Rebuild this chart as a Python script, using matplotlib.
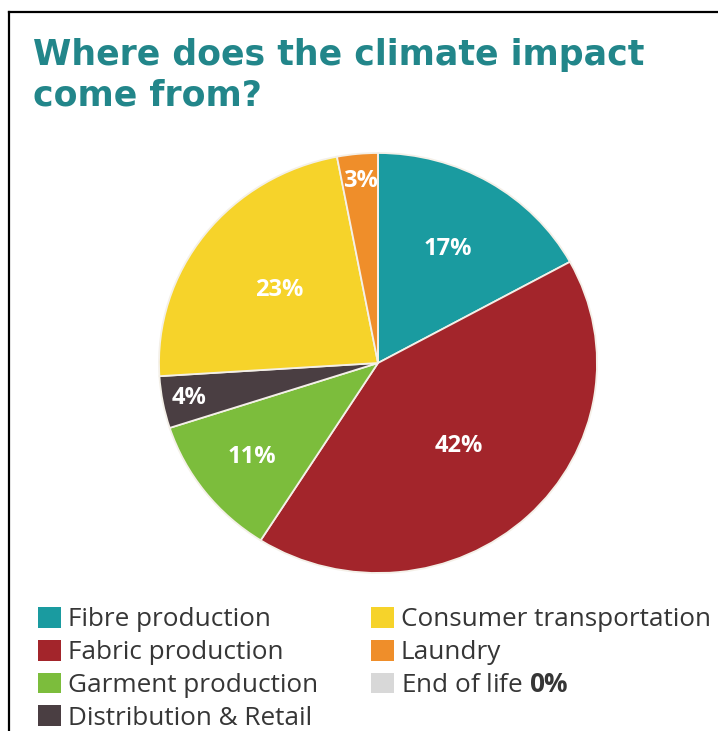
import matplotlib
matplotlib.use("Agg")
import matplotlib.pyplot as plt
import numpy as np

categories = ["Fibre production", "Fabric production", "Garment production",
              "Distribution & Retail", "Consumer transportation", "Laundry", "End of life"]
values = [17, 42, 11, 4, 23, 3, 0]
colors = ["#1a9ba0", "#a3252b", "#7cbd3c", "#4a3e42", "#f6d32a", "#ef8e2a", "#d8d8d8"]
label_radius = [0.63, 0.54, 0.73, 0.88, 0.57, 0.87, 0]
title_lines = ["Where does the climate impact", "come from?"]

W, H = 718, 731
fig = plt.figure(figsize=(W / 100, H / 100), dpi=100)

plt.rcParams['mathtext.fontset'] = 'custom'
plt.rcParams['mathtext.bf'] = 'Open Sans:bold'
plt.rcParams['mathtext.rm'] = 'Open Sans'

# border (left and top)
fig.add_artist(plt.Line2D([9 / W, 9 / W], [0, 1 - 12 / H], color="black", lw=1.6,
                          transform=fig.transFigure))
fig.add_artist(plt.Line2D([9 / W, 1], [1 - 12 / H, 1 - 12 / H], color="black", lw=1.6,
                          transform=fig.transFigure))

# title (two lines)
title_color = "#22868a"
t1 = fig.text(33 / W, 1 - 65 / H, title_lines[0], ha="left", va="baseline",
              fontsize=22, fontweight="bold", color=title_color, family="DejaVu Sans")
fig.canvas.draw()
w1 = t1.get_window_extent().width
tsize = 22 * 609 / w1
t1.set_fontsize(tsize)
fig.text(33 / W, 1 - 105 / H, title_lines[1], ha="left", va="baseline",
         fontsize=tsize, fontweight="bold", color=title_color, family="DejaVu Sans")

# pie axes
cx, cy, rx, ry = 378, 363, 219, 210
ax = fig.add_axes([(cx - rx) / W, (H - cy - ry) / H, 2 * rx / W, 2 * ry / H])
wedges, _ = ax.pie(values, colors=colors, startangle=90, counterclock=False,
                   wedgeprops=dict(edgecolor="#f4f0e8", linewidth=1.3))
ax.set_aspect("auto")
ax.set_xlim(-1, 1)
ax.set_ylim(-1, 1)

for w, v, r in zip(wedges, values, label_radius):
    if v <= 0:
        continue
    ang = np.deg2rad((w.theta1 + w.theta2) / 2)
    ax.text(r * np.cos(ang), r * np.sin(ang), f"{v}%", ha="center", va="center",
            color="white", fontsize=17, fontweight="bold", family="Open Sans")

legend_labels = categories[:-1] + [r"End of life $\mathbf{0\%}$"]
leg = fig.legend(wedges, legend_labels, ncol=2, loc="upper left",
                 bbox_to_anchor=(38 / W, 1 - 607 / H), frameon=False,
                 prop=dict(family="Open Sans", size=18.8),
                 handlelength=0.88, handleheight=0.85, handletextpad=0.28,
                 labelspacing=0.28, columnspacing=2.0, borderpad=0, borderaxespad=0)
for t in leg.get_texts():
    t.set_color("#363636")
for h in leg.legend_handles:
    h.set_edgecolor("none")

fig.savefig("out.png", dpi=100, facecolor="white")
